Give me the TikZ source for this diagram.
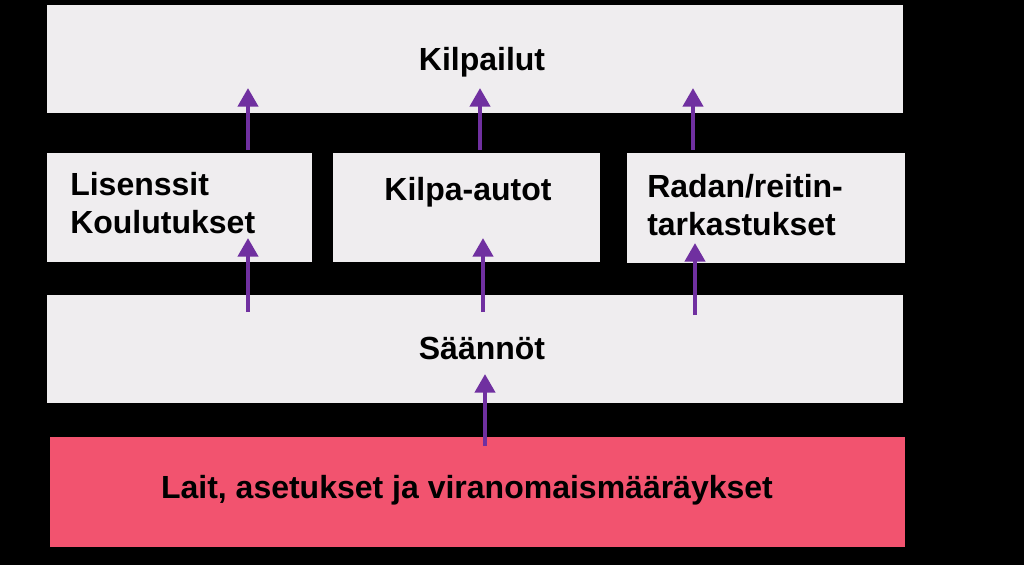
\documentclass[tikz,border=0pt]{standalone}
\usepackage{fontspec}
\setmainfont{Liberation Sans}
\usetikzlibrary{arrows.meta}
\definecolor{boxgray}{HTML}{EFEDEF}
\definecolor{lawred}{HTML}{F2536F}
\definecolor{arrowpurple}{HTML}{7030A0}
\tikzset{
  panel/.style={fill=boxgray, draw=none},
  lbl/.style={font=\bfseries\fontsize{24pt}{29pt}\selectfont, inner sep=0pt},
  uparrow/.style={draw=arrowpurple, line width=3.2pt,
    -{Triangle[width=15pt,length=14pt]}, arrowpurple},
}
\begin{document}
\begin{tikzpicture}[x=0.75pt,y=-0.75pt]
  \fill[black] (0,0) rectangle (1024,565);
  % boxes
  \fill[panel] (47,5) rectangle (903,113);
  \fill[panel] (47,153) rectangle (312,262);
  \fill[panel] (333,153) rectangle (600,262);
  \fill[panel] (627,153) rectangle (905,263);
  \fill[panel] (47,295) rectangle (903,403);
  \fill[lawred] (50,437) rectangle (905,547);
  % texts
  \node[lbl] (kilpailut) at (482,62) {Kilpailut};
  \node[lbl, anchor=west, align=left] (lisenssit) at (70,203) {Lisenssit\\Koulutukset};
  \node[lbl] (autot) at (468,192) {Kilpa-autot};
  \node[lbl, anchor=west, align=left] (radat) at (647,205) {Radan/reitin-\\tarkastukset};
  \node[lbl] (saannot) at (482,348) {Säännöt};
  \node[lbl] (lait) at (467,490) {Lait, asetukset ja viranomaismääräykset};
  % arrow ends
  \coordinate (a1) at (248,150); \coordinate (b1) at (248,88);
  \coordinate (a2) at (480,150); \coordinate (b2) at (480,88);
  \coordinate (a3) at (693,150); \coordinate (b3) at (693,88);
  \coordinate (c1) at (248,312); \coordinate (d1) at (248,238);
  \coordinate (c2) at (483,312); \coordinate (d2) at (483,238);
  \coordinate (c3) at (695,315); \coordinate (d3) at (695,243);
  \coordinate (e1) at (485,446); \coordinate (f1) at (485,374);
  \foreach \s/\t in {a1/b1,a2/b2,a3/b3,c1/d1,c2/d2,c3/d3,e1/f1}
    \draw[uparrow] (\s) -- (\t);
\end{tikzpicture}
\end{document}
